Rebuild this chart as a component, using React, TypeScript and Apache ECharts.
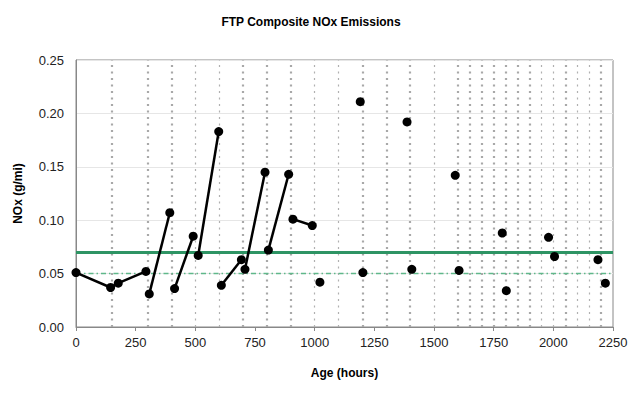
import React, { useEffect, useRef } from "react";
import * as echarts from "echarts";

const title = "FTP Composite NOx Emissions";
const xName = "Age (hours)";
const yName = "NOx (g/mi)";

// Connected test segments [hours, g/mi]
const segments: number[][][] = [
  [[0, 0.051], [145, 0.037], [177, 0.041], [293, 0.052]],
  [[307, 0.031], [393, 0.107]],
  [[413, 0.036], [491, 0.085]],
  [[512, 0.067], [598, 0.183]],
  [[609, 0.039], [693, 0.063]],
  [[708, 0.054], [792, 0.145]],
  [[806, 0.072], [891, 0.143]],
  [[909, 0.101], [990, 0.095]],
];

// Isolated points
const singles: number[][] = [
  [1022, 0.042],
  [1191, 0.211], [1202, 0.051],
  [1387, 0.192], [1407, 0.054],
  [1589, 0.142], [1605, 0.053],
  [1786, 0.088], [1803, 0.034],
  [1980, 0.084], [2005, 0.066],
  [2187, 0.063], [2218, 0.041],
];

const heavyEvents = [150, 300, 400, 700, 800, 900, 1200, 1300, 1400, 1600, 1650, 1700, 1750, 1800, 1850, 1900, 2050, 2200];
const lightEvents = [500, 600, 1000, 1100, 1500, 1950, 2000, 2100, 2150];

const standardLevel = 0.07;
const targetLevel = 0.05;

export default function App() {
  const ref = useRef<HTMLDivElement>(null);
  useEffect(() => {
    if (!ref.current) return;
    const chart = echarts.init(ref.current, null, { renderer: "svg" });
    const font = "'Liberation Sans', Arial, sans-serif";
    const series: any[] = [];
    series.push({
      type: "line",
      data: [],
      silent: true,
      markLine: {
        symbol: "none",
        silent: true,
        label: { show: false },
        lineStyle: { color: "#a8a8a8", width: 2.2, type: [2, 4.5] },
        data: heavyEvents.map((h) => ({ xAxis: h })),
      },
    });
    series.push({
      type: "line",
      data: [],
      silent: true,
      markLine: {
        symbol: "none",
        silent: true,
        label: { show: false },
        lineStyle: { color: "#b0b0b0", width: 1.2, type: [2, 4.5] },
        data: lightEvents.map((h) => ({ xAxis: h })),
      },
    });
    series.push({
      type: "line",
      data: [],
      silent: true,
      markLine: {
        symbol: "none",
        silent: true,
        label: { show: false },
        lineStyle: { color: "#2e9464" },
        data: [
          { yAxis: targetLevel, lineStyle: { color: "#5fb88a", width: 1.3, type: [5, 3, 1.5, 3] } },
          { yAxis: standardLevel, lineStyle: { color: "#2e9464", width: 3, type: "solid" } },
        ],
      },
    });
    segments.forEach((seg) => {
      series.push({
        type: "line",
        data: seg,
        symbol: "circle",
        symbolSize: 9,
        itemStyle: { color: "#000", opacity: 1 },
        lineStyle: { color: "#000", width: 2.5 },
        z: 5,
      });
    });
    series.push({
      type: "scatter",
      data: singles,
      symbol: "circle",
      symbolSize: 9,
      itemStyle: { color: "#000", opacity: 1 },
      z: 5,
    });
    chart.setOption({
      animation: false,
      title: {
        text: title,
        left: 306,
        textAlign: "center",
        top: 11,
        textStyle: { fontFamily: font, fontSize: 12, fontWeight: "bold", color: "#000" },
      },
      grid: {
        left: 76,
        right: 18,
        top: 60,
        bottom: 67,
        show: true,
        borderColor: "#888",
        borderWidth: 1,
      },
      xAxis: {
        type: "value",
        min: 0,
        max: 2250,
        interval: 250,
        name: xName,
        nameLocation: "middle",
        nameGap: 40,
        nameTextStyle: { fontFamily: font, fontSize: 12, fontWeight: "bold", color: "#000" },
        axisLine: { show: true, lineStyle: { color: "#888" } },
        axisTick: { show: true, length: 4, lineStyle: { color: "#888" } },
        axisLabel: {
          fontFamily: font,
          fontSize: 13,
          color: "#222",
          margin: 9,
          formatter: (v: number) => String(v),
        },
        splitLine: { show: false },
      },
      yAxis: {
        type: "value",
        min: 0,
        max: 0.25,
        interval: 0.05,
        name: yName,
        nameLocation: "middle",
        nameGap: 52,
        nameTextStyle: { fontFamily: font, fontSize: 12, fontWeight: "bold", color: "#000" },
        axisLine: { show: true, lineStyle: { color: "#888" } },
        axisTick: { show: false },
        axisLabel: {
          fontFamily: font,
          fontSize: 13,
          color: "#222",
          margin: 12,
          formatter: (v: number) => v.toFixed(2),
        },
        splitLine: { show: true, lineStyle: { color: "#e6e6e6", width: 1 } },
      },
      series,
    });
    return () => chart.dispose();
  }, []);
  return <div ref={ref} style={{ width: 631, height: 394, position: "absolute", left: 0, top: 0, background: "#fff" }} />;
}
